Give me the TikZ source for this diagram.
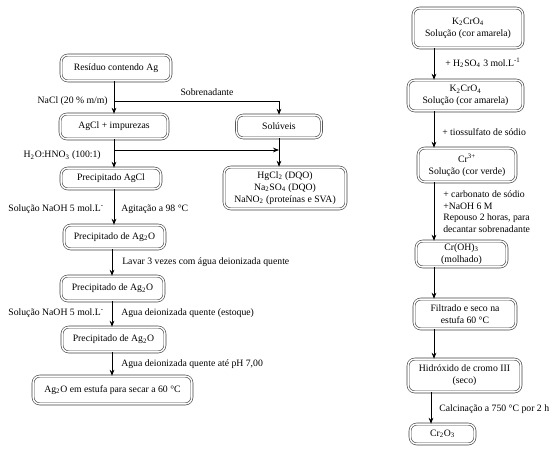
\documentclass[tikz,border=0pt]{standalone}
\usepackage{fontspec}
\setmainfont{Liberation Serif}
\usetikzlibrary{arrows.meta, positioning}

\tikzset{
  stepbox/.style={draw=black!75, double, double distance=1.1pt, line width=0.45pt,
    rounded corners=5pt, align=center, inner sep=1pt,
    font=\fontsize{7.3}{9}\selectfont},
  sz/.style 2 args={minimum width=#1*0.75pt-1.6pt, minimum height=#2*0.75pt-1.6pt},
  arr/.style={-{Stealth[length=4.5pt, width=3.5pt]}, line width=0.6pt},
  lbl/.style={font=\fontsize{7.3}{9}\selectfont, inner sep=0pt},
}

\begin{document}
\begin{tikzpicture}[x=0.75pt, y=-0.75pt]
  \useasboundingbox (0,0) rectangle (559,467);

  % Columns for the vertical arrows
  \coordinate (lcol) at (114,0);
  \coordinate (mcol) at (112,0);
  \coordinate (rcol) at (434,0);
  \coordinate (qcol) at (431,0);

  % === Silver residue: left column ===
  \node[stepbox, sz={112}{28}] (res)   at (116,68)    {Resíduo contendo Ag};
  \node[stepbox, sz={110}{27}] (agcl)  at (114,126.5) {AgCl + impurezas};
  \node[stepbox, sz={87}{25}]  (sol)   at (279,126.5) {Solúveis};
  \node[stepbox, sz={124}{44}] (hg)    at (285,188)
       {HgCl\textsubscript{2} (DQO)\\Na\textsubscript{2}SO\textsubscript{4} (DQO)\\NaNO\textsubscript{2} (proteínas e SVA)};
  \node[stepbox, sz={102}{23}] (pagcl) at (111,178.5) {Precipitado AgCl};
  \node[stepbox, sz={103}{26}] (oxa)   at (114.5,237) {Precipitado de Ag\textsubscript{2}O};
  \node[stepbox, sz={105}{27}] (oxb)   at (112.5,288.5) {Precipitado de Ag\textsubscript{2}O};
  \node[stepbox, sz={105}{27}] (oxc)   at (113.5,339.5) {Precipitado de Ag\textsubscript{2}O};
  \node[stepbox, sz={161}{30}] (dry)   at (112.5,390) {Ag\textsubscript{2}O em estufa para secar a 60 °C};

  % Branch points for the side streams
  \coordinate (b1) at (114,101);
  \coordinate (b2) at (114,150);

  \draw[arr] (res.south -| lcol) -- (agcl.north -| lcol);
  \draw[arr] (b1) -| (sol);
  \draw[arr] (agcl.south -| lcol) -- (pagcl.north -| lcol);
  \draw[arr] (b2) -- (b2 -| sol.south);
  \draw[arr] (sol.south) -- (sol.south |- hg.north);
  \draw[arr] (pagcl.south -| lcol) -- (oxa.north -| lcol);
  \draw[arr] (oxa.south -| mcol) -- (oxb.north -| mcol);
  \draw[arr] (oxb.south -| mcol) -- (oxc.north -| mcol);
  \draw[arr] (oxc.south -| mcol) -- (dry.north -| mcol);

  % Labels of the left column
  \node[lbl, anchor=east] (l1) at (108,101) {NaCl (20 \% m/m)};
  \node[lbl] (l2) at (207,92) {Sobrenadante};
  \node[lbl, anchor=east] (l3) at (101,155.5) {H\textsubscript{2}O:HNO\textsubscript{3} (100:1)};
  \node[lbl, anchor=east] (l4) at (104,209) {Solução NaOH 5 mol.L\textsuperscript{-}};
  \node[lbl, anchor=west] (l5) at (121,209) {Agitação a 98 °C};
  \node[lbl, anchor=west] (l6) at (122,262) {Lavar 3 vezes com água deionizada quente};
  \node[lbl, anchor=east] (l7) at (104,313) {Solução NaOH 5 mol.L\textsuperscript{-}};
  \node[lbl, anchor=west] (l8) at (121,313) {Agua deionizada quente (estoque)};
  \node[lbl, anchor=west] (l9) at (121,364) {Agua deionizada quente até pH 7,00};

  % === Chromium: right column ===
  \node[stepbox, sz={112}{42}] (kca)  at (468,28)    {K\textsubscript{2}CrO\textsubscript{4}\\Solução (cor amarela)};
  \node[stepbox, sz={117}{33}] (kcb)  at (465.5,95.5) {K\textsubscript{2}CrO\textsubscript{4}\\Solução (cor amarela)};
  \node[stepbox, sz={100}{36}] (crs)  at (467,165)   {Cr\textsuperscript{3+}\\Solução (cor verde)};
  \node[stepbox, sz={93}{28}]  (croh) at (461.5,254) {Cr(OH)\textsubscript{3}\\(molhado)};
  \node[stepbox, sz={104}{32}] (filt) at (465,314)   {Filtrado e seco na\\estufa 60 °C};
  \node[stepbox, sz={115}{35}] (hid)  at (464.5,375.5) {Hidróxido de cromo III\\(seco)};
  \node[stepbox, sz={67}{22}]  (cro)  at (442.5,434) {Cr\textsubscript{2}O\textsubscript{3}};

  \draw[arr] (kca.south -| rcol) -- (kcb.north -| rcol);
  \draw[arr] (kcb.south -| rcol) -- (crs.north -| rcol);
  \draw[arr] (crs.south -| rcol) -- (croh.north -| rcol);
  \draw[arr] (croh.south -| rcol) -- (filt.north -| rcol);
  \draw[arr] (filt.south -| rcol) -- (hid.north -| rcol);
  \draw[arr] (hid.south -| qcol) -- (cro.north -| qcol);

  % Labels of the right column
  \node[lbl, anchor=west] (r1) at (445,63) {+ H\textsubscript{2}SO\textsubscript{4} 3 mol.L\textsuperscript{-1}};
  \node[lbl, anchor=west] (r2) at (442,132) {+ tiossulfato de sódio};
  \node[lbl, anchor=west, align=left, font=\fontsize{7.3}{8.6}\selectfont] (r3) at (443,211.5)
       {+ carbonato de sódio\\+NaOH 6 M\\Repouso 2 horas, para\\decantar sobrenadante};
  \node[lbl, anchor=west] (r4) at (439,409) {Calcinação a 750 °C por 2 h};
\end{tikzpicture}
\end{document}
